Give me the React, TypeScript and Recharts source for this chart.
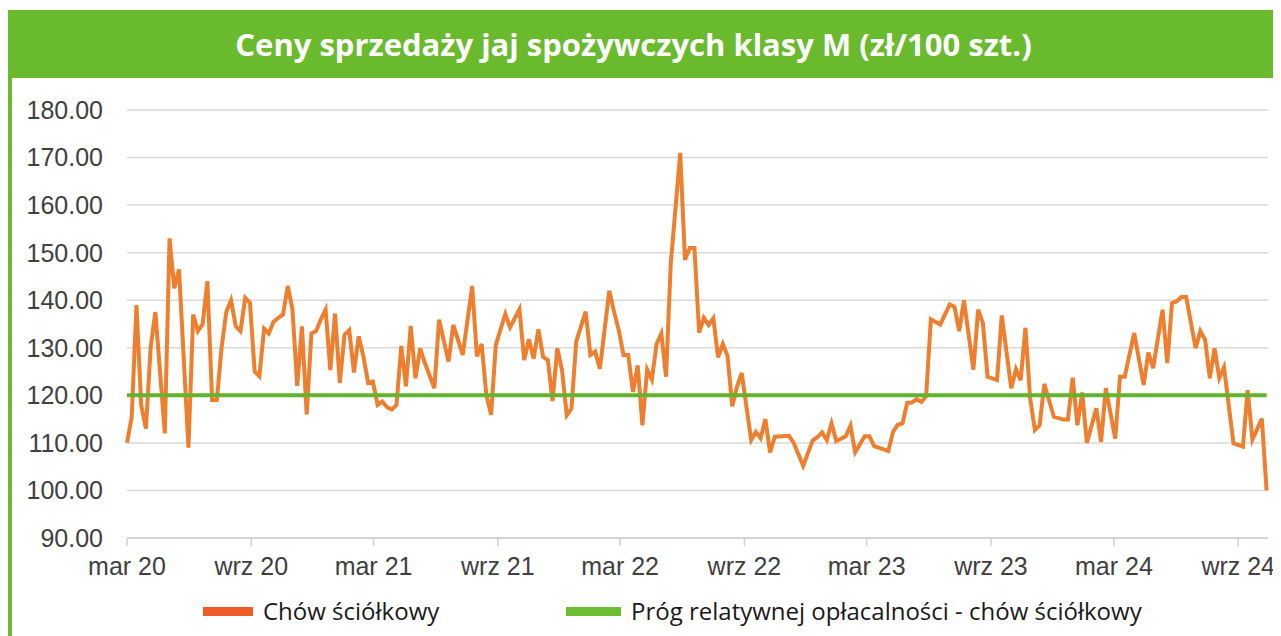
import { CartesianGrid, Legend, Line, LineChart, XAxis, YAxis } from 'recharts';

// weekly prices, index = week since the start of March 2020 (null = no readable point)
const prices: (number | null)[] = [
  110, 115.5, 139, 118, 113, 130, 137.5, null, 112, 153,
  142.5, 146.5, null, 109, 137, 133.5, 135, 144, 119, 119,
  130, 137.5, 140, 134.5, 133.5, 140.5, 139.5, 125, 124, 134,
  133, 135.5, 136.3, 137, 143, 138, 122, 134.5, 116, 133,
  133.5, 136, 138, 125.3, 137.2, 122.6, 132.7, 133.7, 124.8, 132.4,
  128.2, 122.6, 122.9, 118, 118.7, 117.5, 117, 118, 130.4, 121.9,
  134.6, 123.6, 129.9, 126.8, null, 121.5, 135.9, null, 127.1, 134.8,
  null, 128.5, null, 143, 128.2, 130.8, 120.1, 115.9, 130.6, null,
  137.1, 134.3, null, 138.1, 127.4, 131.8, 127.7, 133.9, 128.1, 127.4,
  118.8, 129.9, 125.3, 115.8, 117.2, 131.3, null, 137.6, 128.5, 129.2,
  125.6, null, 142, 137.6, 133.7, 128.5, 128.5, 120.7, 126.3, 113.7,
  125.4, 123.3, 130.8, 133, 123.9, 147.8, null, 171, 148.5, 151,
  151, 133.2, 136.3, 134.8, 136.2, 128, 130.8, 128.3, 117.7, 121.8,
  124.7, null, 110.6, 112.3, 111, 115, 108, 111.3, null, null,
  111.5, 110, null, 105.2, null, 110.5, 111.2, 112.2, 110.6, 114.1,
  110.4, null, 111.4, 113.6, 108, null, 111.4, 111.4, 109.3, null,
  null, 108.3, 112.3, 113.8, 114.1, 118.4, 118.5, 119.2, 118.6, 119.8,
  136, null, 134.9, null, 139.1, 138.6, 133.5, 140, null, 125.4,
  138, 135.2, 123.9, null, 123.2, 136.8, null, 121.5, 125.5, 123.2,
  134.2, 119.4, 112.7, 113.7, 122.4, null, 115.5, null, 114.9, 114.9,
  123.7, 113.7, 120.6, 110, null, 117.3, 110.2, 121.5, null, 110.9,
  123.9, 123.9, null, 133.1, null, 122.2, 129, 125.7, null, 138,
  126.8, 139.4, 139.8, 140.7, 140.7, null, 129.9, 133.5, 131.7, 123.6,
  129.9, 123.6, 125.9, null, 109.9, null, 109.2, 121.1, 110.7, null,
  115.1, 100,
];

const thresholdValue = 120;

const tickLabels = ['mar 20', 'wrz 20', 'mar 21', 'wrz 21', 'mar 22', 'wrz 22', 'mar 23', 'wrz 23', 'mar 24', 'wrz 24'];
const tickDates = ['2020-03-01', '2020-09-01', '2021-03-01', '2021-09-01', '2022-03-01', '2022-09-01', '2023-03-01', '2023-09-01', '2024-03-01', '2024-09-01'];
const yTicks = [90, 100, 110, 120, 130, 140, 150, 160, 170, 180];

const seriesNames = ['Chów ściółkowy', 'Próg relatywnej opłacalności - chów ściółkowy'];

const WEEK_MS = 7 * 24 * 3600 * 1000;
const tickWeeks = tickDates.map((d) => (Date.parse(d) - Date.parse(tickDates[0])) / WEEK_MS);

const data = prices.map((p, i) => ({ week: i, price: p, threshold: thresholdValue }));

const ORANGE = '#ee7f2f';
const GREEN = '#62b32e';
const BANNER = '#69bb2d';
const axisFont = '"Liberation Sans", Arial, sans-serif';

const LegendContent = () => (
  <div style={{ position: 'relative', height: 48, width: 1269, fontFamily: '"Open Sans", sans-serif', fontSize: 24, color: '#1a1a1a' }}>
    <div style={{ position: 'absolute', left: 191, top: 19, width: 50, height: 9, background: '#ef5b26' }} />
    <div style={{ position: 'absolute', left: 251, top: 7, lineHeight: '32px', whiteSpace: 'nowrap' }}>{seriesNames[0]}</div>
    <div style={{ position: 'absolute', left: 554, top: 19, width: 55, height: 9, background: '#6cbd31' }} />
    <div style={{ position: 'absolute', left: 619, top: 7, lineHeight: '32px', whiteSpace: 'nowrap' }}>{seriesNames[1]}</div>
  </div>
);

export default function App() {
  return (
    <div style={{ paddingTop: 2 }}>
      <div style={{ width: 1273, height: 626, borderLeft: `4px solid ${BANNER}`, boxSizing: 'border-box', background: '#fff' }}>
        <div
          style={{
            height: 68,
            background: BANNER,
            color: '#fff',
            display: 'flex',
            alignItems: 'center',
            justifyContent: 'center',
            paddingRight: 26,
            fontFamily: '"Open Sans", sans-serif',
            fontWeight: 700,
            fontSize: 31,
          }}
        >
          Ceny sprzedaży jaj spożywczych klasy M (zł/100 szt.)
        </div>
        <LineChart width={1269} height={558} data={data} margin={{ top: 32, right: 13, bottom: 0, left: 0 }}>
          <CartesianGrid vertical={false} stroke="#d9d9d9" strokeWidth={1.5} />
          <XAxis
            dataKey="week"
            type="number"
            domain={[0, 241.3]}
            ticks={tickWeeks}
            interval={0}
            tickFormatter={(v: number) => tickLabels[tickWeeks.indexOf(v)] ?? ''}
            height={50}
            tickSize={8}
            tickMargin={11}
            stroke="#d0d0d0"
            strokeWidth={1.5}
            tick={{ fill: '#404040', fontSize: 25, fontFamily: axisFont }}
          />
          <YAxis
            domain={[90, 180]}
            ticks={yTicks}
            interval={0}
            width={115}
            axisLine={false}
            tickLine={false}
            tickSize={6}
            tickMargin={18}
            tickFormatter={(v: number) => v.toFixed(2)}
            tick={{ fill: '#404040', fontSize: 25, fontFamily: axisFont }}
          />
          <Legend verticalAlign="bottom" height={48} content={<LegendContent />} />
          <Line
            name={seriesNames[0]}
            dataKey="price"
            type="linear"
            stroke={ORANGE}
            strokeWidth={4}
            dot={false}
            connectNulls
            isAnimationActive={false}
          />
          <Line
            name={seriesNames[1]}
            dataKey="threshold"
            type="linear"
            stroke={GREEN}
            strokeWidth={4}
            dot={false}
            isAnimationActive={false}
          />
        </LineChart>
      </div>
    </div>
  );
}
